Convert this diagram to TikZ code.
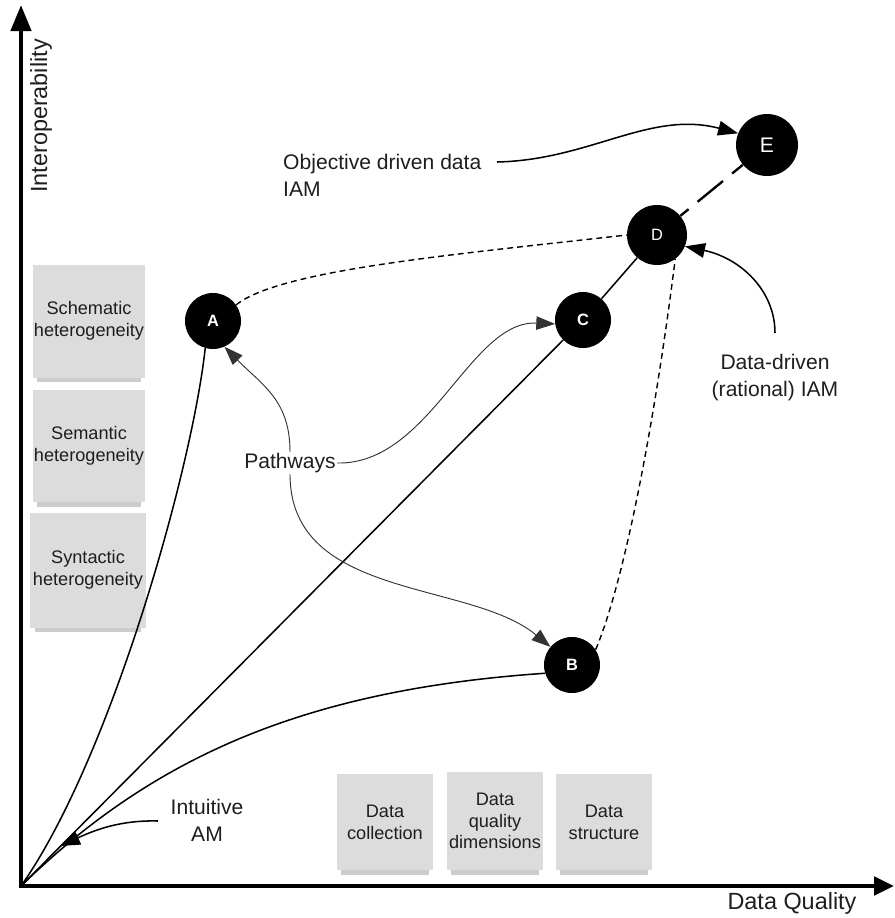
\documentclass[tikz,border=0pt]{standalone}
\usepackage{fontspec}
\setmainfont{Liberation Sans}
\usetikzlibrary{arrows.meta,shadows}

\definecolor{boxgray}{HTML}{DCDCDC}
\definecolor{inkgray}{HTML}{1E1E1E}

\tikzset{
	stage/.style={circle, fill=black, text=white, inner sep=0pt, minimum size=1.68cm, font=\fontsize{14}{16}\selectfont\bfseries},
	factor/.style={fill=boxgray, text=inkgray, align=center, inner sep=0pt, minimum width=3.36cm, minimum height=3.36cm, font=\fontsize{15.5}{18.5}\selectfont, drop shadow={shadow xshift=0pt, shadow yshift=-0.3cm, shadow scale=0.92, opacity=0.4}},
	note/.style={align=center, text=inkgray, inner sep=0pt, font=\fontsize{18}{23}\selectfont},
	link/.style={line width=1.3pt},
	arrowed/.style={-{Triangle[length=17pt,width=12.5pt]}},
	pathway/.style={line width=0.8pt, draw=black!80, fill=none, -{Triangle[length=16pt,width=11.5pt]}},
	gaps/.style={line width=1.2pt, dash pattern=on 5pt off 3.5pt}
}

\begin{document}
\begin{tikzpicture}[x=0.03cm, y=-0.03cm]
	\useasboundingbox (0,0) rectangle (895,918);

	\coordinate (O) at (21,886);
	\coordinate (ytop) at (21,5);
	\coordinate (xend) at (894,886);
	\draw[line width=3.8pt, {Triangle[length=0.78cm,width=0.6cm]}-{Triangle[length=0.6cm,width=0.55cm]}] (ytop) -- (O) -- (xend);
	\node[rotate=90, text=inkgray, font=\fontsize{20}{24}\selectfont] (yname) at (41,116) {Interoperability};
	\node[text=inkgray, font=\fontsize{20}{24}\selectfont] (xname) at (792,903) {Data Quality};

	\node[factor, minimum width=3.36cm, minimum height=3.39cm] (schematic) at (89,321) {Schematic\\heterogeneity};
	\node[factor, minimum width=3.36cm, minimum height=3.36cm] (semantic) at (89,446) {Semantic\\heterogeneity};
	\node[factor, minimum width=3.45cm, minimum height=3.45cm] (syntactic) at (88,570) {Syntactic\\heterogeneity};

	\node[factor, minimum width=2.88cm, minimum height=2.88cm] (collection) at (385,822) {Data\\collection};
	\node[factor, minimum width=2.88cm, minimum height=2.94cm] (dimensions) at (495,821) {Data\\quality\\dimensions};
	\node[factor, minimum width=2.88cm, minimum height=2.88cm] (structure) at (604,822) {Data\\structure};

	\node[stage] (A) at (213,321) {A};
	\node[stage] (B) at (572,665) {B};
	\node[stage] (C) at (583,320) {C};
	\node[stage, minimum size=1.8cm, font=\fontsize{14}{16}\selectfont] (D) at (657,235) {D};
	\node[stage, minimum size=1.86cm, font=\fontsize{18}{20}\selectfont] (E) at (767,145) {E};

	\draw[link] (O) .. controls (110,760) and (192,470) .. (A.-106);
	\draw[link] (O) -- (C);
	\draw[link] (C) -- (D);
	\draw[link] (O) .. controls (150,760) and (300,690) .. (B.197);
	\draw[line width=2pt, dash pattern=on 28pt off 10pt, dash phase=19pt] (D) -- (E);

	\draw[gaps] (A.35) .. controls (280,270) and (450,255) .. (D.west);
	\draw[gaps] (B.33) .. controls (625,580) and (655,420) .. (D.-53);

	\node[note, inner sep=1pt] (pathways) at (290,463) {Pathways};
	\draw[pathway] (pathways.north) .. controls (290,400) and (262,385) .. (A.-66);
	\draw[pathway] (pathways.east) .. controls (430,465) and (470,320) .. (C.188);
	\draw[pathway] (pathways.south) .. controls (290,600) and (470,580) .. (B.140);

	\node[note, align=left, anchor=west] (objective) at (283,175) {Objective driven data\\IAM};
	\coordinate (objtail) at (497,162);
	\draw[link, arrowed] (objtail) .. controls (590,160) and (650,110) .. (E.158);

	\node[note] (datadriven) at (775,378) {Data-driven\\(rational) IAM};
	\coordinate (ddtail) at (775,333);
	\draw[link, arrowed] (ddtail) .. controls (775,290) and (740,258) .. (D.-22);

	\node[note] (intuitive) at (207,820) {Intuitive\\AM};
	\coordinate (aimtail) at (158,821);
	\coordinate (aimtip) at (60,846);
	\draw[link, arrowed] (aimtail) .. controls (120,820) and (95,830) .. (aimtip);
\end{tikzpicture}
\end{document}
